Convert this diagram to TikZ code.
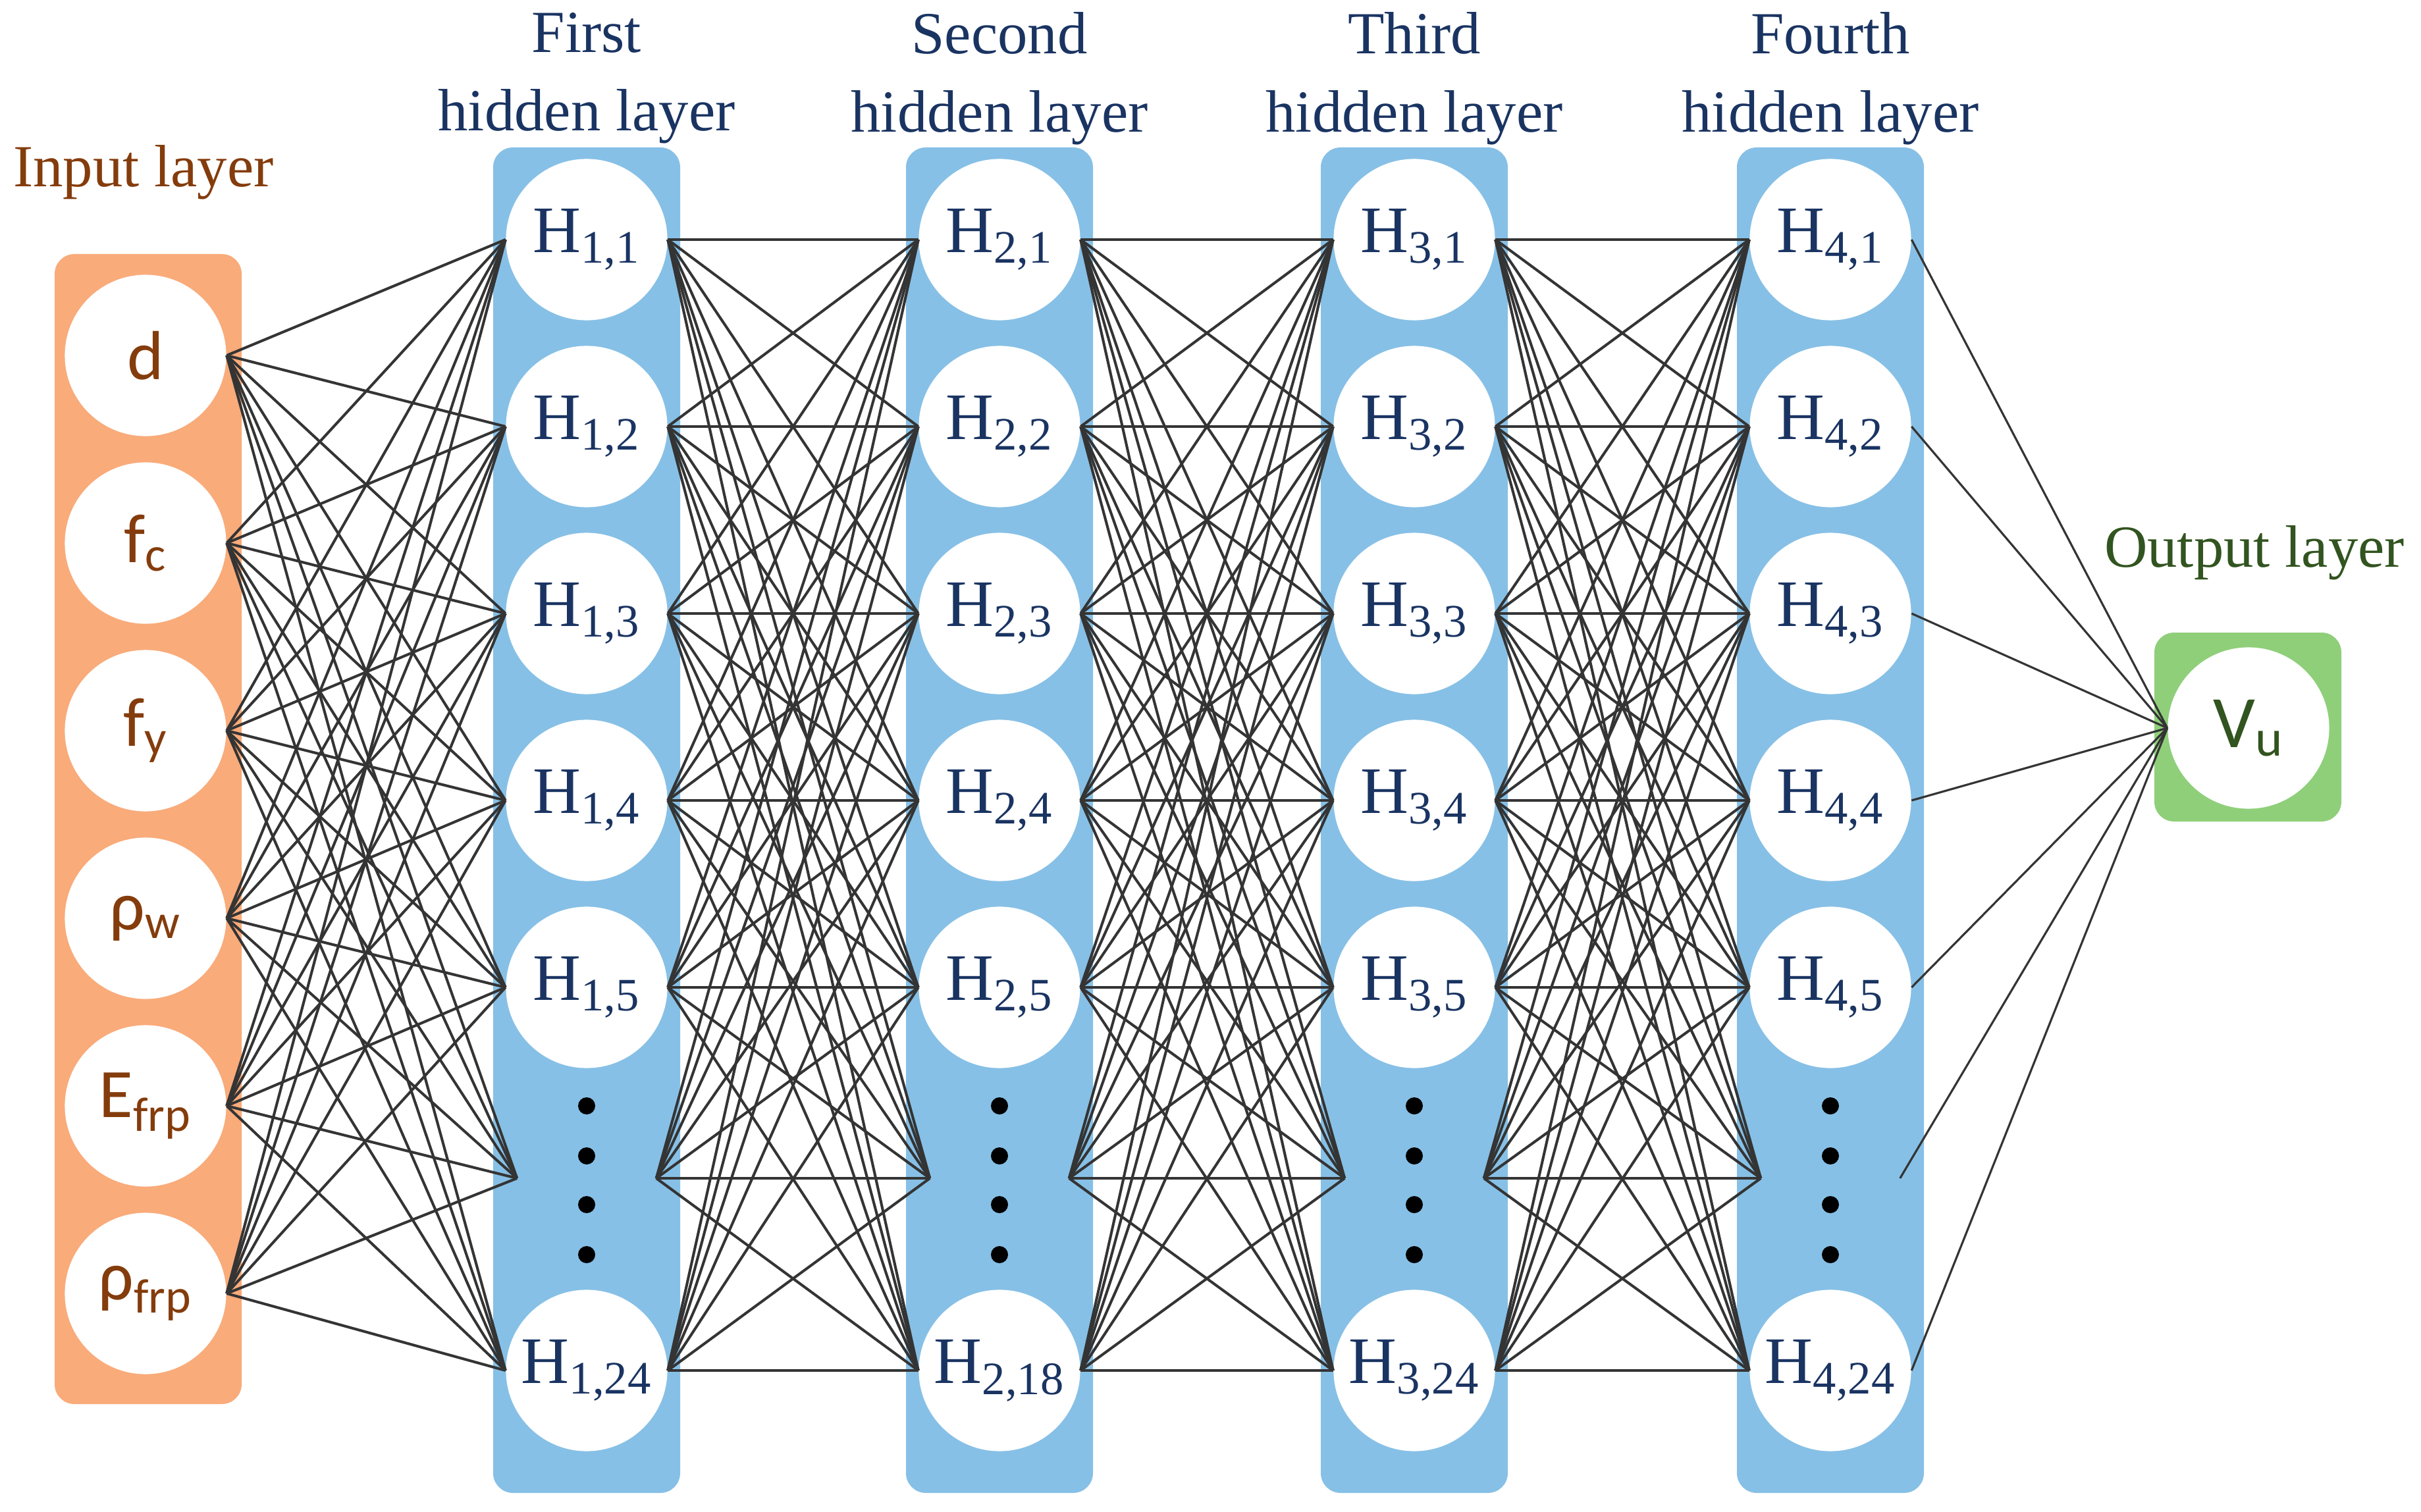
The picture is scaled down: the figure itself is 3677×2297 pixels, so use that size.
\documentclass[tikz,border=0pt]{standalone}
\usepackage{fontspec}
\setmainfont{Liberation Serif}
\newfontfamily\labfont{Carlito}
\usetikzlibrary{positioning}

\definecolor{inorange}{RGB}{249,171,122}
\definecolor{hidblue}{RGB}{135,192,230}
\definecolor{outgreen}{RGB}{143,207,122}
\definecolor{inbrown}{RGB}{132,60,12}
\definecolor{navy}{RGB}{26,52,98}
\definecolor{dkgreen}{RGB}{50,84,32}
\definecolor{wirecol}{RGB}{52,52,52}

\begin{document}
\begin{tikzpicture}[
    x=0.01cm, y=-0.01cm,
    layerbox/.style={rounded corners=0.3cm},
    neuron/.style={circle,fill=white,minimum size=2.45cm,inner sep=0pt},
    inneuron/.style={neuron,font=\labfont\fontsize{30}{30}\selectfont,text=inbrown},
    hidneuron/.style={neuron,font=\fontsize{28.7}{30}\selectfont,text=navy},
    outneuron/.style={neuron,font=\labfont\fontsize{32}{32}\selectfont,text=dkgreen},
    dotsnode/.style={minimum width=2.1cm,minimum height=3cm,inner sep=0pt},
    laytitle/.style={font=\fontsize{25.8}{33.9}\selectfont,align=center},
    conn/.style={line width=1.15pt,wirecol},
]
\useasboundingbox (0,0) rectangle (3677,2297);

% Input layer
\fill[inorange,layerbox] (83,386) rectangle (367,2133);
\node[laytitle,text=inbrown] (TIN) at (218,262) {Input layer};
\node[inneuron] (IN1) at (221,540) {d};
\node[inneuron] (IN2) at (221,825) {f\textsubscript{c}};
\node[inneuron] (IN3) at (221,1110) {f\textsubscript{y}};
\node[inneuron] (IN4) at (221,1395) {ρ\textsubscript{w}};
\node[inneuron] (IN5) at (221,1680) {E\textsubscript{frp}};
\node[inneuron] (IN6) at (221,1965) {ρ\textsubscript{frp}};

% Hidden layers
\foreach \l/\cx/\last/\word in {1/891/24/First, 2/1518/18/Second,
                                3/2148/24/Third, 4/2780/24/Fourth} {
  \fill[hidblue,layerbox] (\cx-142,224) rectangle (\cx+142,2268);
  \node[laytitle,text=navy] (T\l) at (\cx,119) {\word\\hidden layer};
  \foreach \i/\cy in {1/364,2/648,3/932,4/1216,5/1500}
    \node[hidneuron] (H\l-\i) at (\cx,\cy) {H\textsubscript{\l,\i}};
  \node[dotsnode] (H\l-6) at (\cx,1790) {};
  \foreach \dy in {1680,1756,1830,1906}
    \fill (\cx,\dy) circle (0.13cm);
  \node[hidneuron] (H\l-7) at (\cx,2082) {H\textsubscript{\l,\last}};
}

% Output layer
\fill[outgreen,layerbox] (3272,961) rectangle (3556,1248);
\node[laytitle,text=dkgreen] (TOUT) at (3424,840) {Output layer};
\node[outneuron] (OUT) at (3415,1106) {V\textsubscript{u}};

% Connections
\foreach \a in {1,...,6}
  \foreach \b in {1,...,7}
    \draw[conn] (IN\a.east) -- (H1-\b.west);
\foreach \l/\m in {1/2,2/3,3/4}
  \foreach \a in {1,...,7}
    \foreach \b in {1,...,7}
      \draw[conn] (H\l-\a.east) -- (H\m-\b.west);
\foreach \a in {1,...,7}
  \draw[conn,line width=0.9pt] (H4-\a.east) -- (OUT.west);

\end{tikzpicture}
\end{document}
